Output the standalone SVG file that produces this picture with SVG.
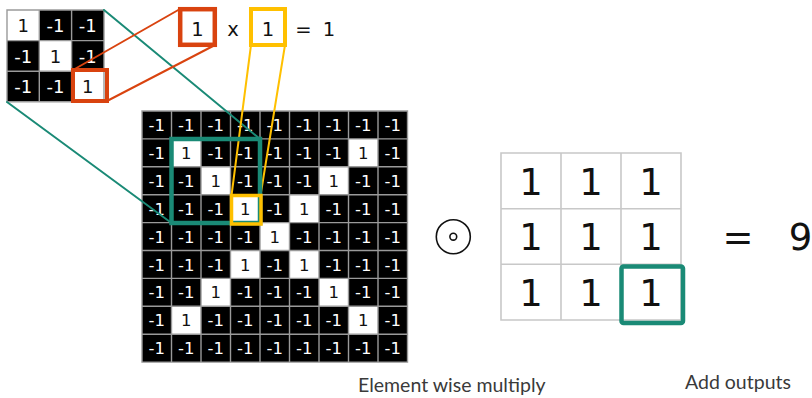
<svg xmlns="http://www.w3.org/2000/svg" width="812" height="398" viewBox="0 0 812 398">
<style>
.num{font-family:"DejaVu Sans","Liberation Sans",sans-serif;text-anchor:middle}
.big .num{font-size:16.5px}
.small .num{font-size:18px}
.wt{fill:#ffffff}
.bt{fill:#111111}
.gl{stroke:#9a9a9a;stroke-width:1.4;fill:none}
.fl{stroke:#c8c8c8;stroke-width:1.6;fill:none}
.lbl{font-family:Lato,"Open Sans",sans-serif;font-size:19.5px;fill:#3a3a3a}
.red{stroke:#d9430f;fill:none}
.yel{stroke:#ffc000;fill:none}
.grn{stroke:#1a8a76;fill:none}
</style>
<rect width="812" height="398" fill="#ffffff"/>

<g id="small-grid" class="small">
  <rect x="7" y="10" width="97" height="91.8" fill="#000"/>
  <rect x="7" y="10" width="32.3" height="30.6" fill="#fff"/>
  <rect x="39.3" y="40.6" width="32.3" height="30.6" fill="#fff"/>
  <rect x="71.6" y="71.2" width="32.4" height="30.6" fill="#fff"/>
  <path class="gl" d="M7 10H104V101.8H7Z M39.3 10V101.8 M71.6 10V101.8 M7 40.6H104 M7 71.2H104"/>
  <text class="num bt" x="23.2" y="32.2">1</text><text class="num wt" x="55.5" y="32.2">-1</text><text class="num wt" x="87.8" y="32.2">-1</text>
  <text class="num wt" x="23.2" y="62.8">-1</text><text class="num bt" x="55.5" y="62.8">1</text><text class="num wt" x="87.8" y="62.8">-1</text>
  <text class="num wt" x="23.2" y="93.4">-1</text><text class="num wt" x="55.5" y="93.4">-1</text><text class="num bt" x="87.8" y="93.4">1</text>
</g>

<g id="big-grid" class="big">
  <rect x="142" y="111" width="265.5" height="251.1" fill="#000"/>
  <g fill="#fff">
    <rect x="171.5" y="138.9" width="29.5" height="27.9"/><rect x="348.5" y="138.9" width="29.5" height="27.9"/>
    <rect x="201" y="166.8" width="29.5" height="27.9"/><rect x="319" y="166.8" width="29.5" height="27.9"/>
    <rect x="230.5" y="194.7" width="29.5" height="27.9"/><rect x="289.5" y="194.7" width="29.5" height="27.9"/>
    <rect x="260" y="222.6" width="29.5" height="27.9"/>
    <rect x="230.5" y="250.5" width="29.5" height="27.9"/><rect x="289.5" y="250.5" width="29.5" height="27.9"/>
    <rect x="201" y="278.4" width="29.5" height="27.9"/><rect x="319" y="278.4" width="29.5" height="27.9"/>
    <rect x="171.5" y="306.3" width="29.5" height="27.9"/><rect x="348.5" y="306.3" width="29.5" height="27.9"/>
  </g>
  <path class="gl" d="M142 111H407.5V362.1H142Z M171.5 111V362.1 M201 111V362.1 M230.5 111V362.1 M260 111V362.1 M289.5 111V362.1 M319 111V362.1 M348.5 111V362.1 M378 111V362.1 M142 138.9H407.5 M142 166.8H407.5 M142 194.7H407.5 M142 222.6H407.5 M142 250.5H407.5 M142 278.4H407.5 M142 306.3H407.5 M142 334.2H407.5"/>
  <g class="num">
    <text class="wt" x="156.75" y="131">-1</text><text class="wt" x="186.25" y="131">-1</text><text class="wt" x="215.75" y="131">-1</text><text class="wt" x="245.25" y="131">-1</text><text class="wt" x="274.75" y="131">-1</text><text class="wt" x="304.25" y="131">-1</text><text class="wt" x="333.75" y="131">-1</text><text class="wt" x="363.25" y="131">-1</text><text class="wt" x="392.75" y="131">-1</text>
    <text class="wt" x="156.75" y="158.9">-1</text><text class="bt" x="186.25" y="158.9">1</text><text class="wt" x="215.75" y="158.9">-1</text><text class="wt" x="245.25" y="158.9">-1</text><text class="wt" x="274.75" y="158.9">-1</text><text class="wt" x="304.25" y="158.9">-1</text><text class="wt" x="333.75" y="158.9">-1</text><text class="bt" x="363.25" y="158.9">1</text><text class="wt" x="392.75" y="158.9">-1</text>
    <text class="wt" x="156.75" y="186.8">-1</text><text class="wt" x="186.25" y="186.8">-1</text><text class="bt" x="215.75" y="186.8">1</text><text class="wt" x="245.25" y="186.8">-1</text><text class="wt" x="274.75" y="186.8">-1</text><text class="wt" x="304.25" y="186.8">-1</text><text class="bt" x="333.75" y="186.8">1</text><text class="wt" x="363.25" y="186.8">-1</text><text class="wt" x="392.75" y="186.8">-1</text>
    <text class="wt" x="156.75" y="214.7">-1</text><text class="wt" x="186.25" y="214.7">-1</text><text class="wt" x="215.75" y="214.7">-1</text><text class="bt" x="245.25" y="214.7">1</text><text class="wt" x="274.75" y="214.7">-1</text><text class="bt" x="304.25" y="214.7">1</text><text class="wt" x="333.75" y="214.7">-1</text><text class="wt" x="363.25" y="214.7">-1</text><text class="wt" x="392.75" y="214.7">-1</text>
    <text class="wt" x="156.75" y="242.6">-1</text><text class="wt" x="186.25" y="242.6">-1</text><text class="wt" x="215.75" y="242.6">-1</text><text class="wt" x="245.25" y="242.6">-1</text><text class="bt" x="274.75" y="242.6">1</text><text class="wt" x="304.25" y="242.6">-1</text><text class="wt" x="333.75" y="242.6">-1</text><text class="wt" x="363.25" y="242.6">-1</text><text class="wt" x="392.75" y="242.6">-1</text>
    <text class="wt" x="156.75" y="270.5">-1</text><text class="wt" x="186.25" y="270.5">-1</text><text class="wt" x="215.75" y="270.5">-1</text><text class="bt" x="245.25" y="270.5">1</text><text class="wt" x="274.75" y="270.5">-1</text><text class="bt" x="304.25" y="270.5">1</text><text class="wt" x="333.75" y="270.5">-1</text><text class="wt" x="363.25" y="270.5">-1</text><text class="wt" x="392.75" y="270.5">-1</text>
    <text class="wt" x="156.75" y="298.4">-1</text><text class="wt" x="186.25" y="298.4">-1</text><text class="bt" x="215.75" y="298.4">1</text><text class="wt" x="245.25" y="298.4">-1</text><text class="wt" x="274.75" y="298.4">-1</text><text class="wt" x="304.25" y="298.4">-1</text><text class="bt" x="333.75" y="298.4">1</text><text class="wt" x="363.25" y="298.4">-1</text><text class="wt" x="392.75" y="298.4">-1</text>
    <text class="wt" x="156.75" y="326.3">-1</text><text class="bt" x="186.25" y="326.3">1</text><text class="wt" x="215.75" y="326.3">-1</text><text class="wt" x="245.25" y="326.3">-1</text><text class="wt" x="274.75" y="326.3">-1</text><text class="wt" x="304.25" y="326.3">-1</text><text class="wt" x="333.75" y="326.3">-1</text><text class="bt" x="363.25" y="326.3">1</text><text class="wt" x="392.75" y="326.3">-1</text>
    <text class="wt" x="156.75" y="354.2">-1</text><text class="wt" x="186.25" y="354.2">-1</text><text class="wt" x="215.75" y="354.2">-1</text><text class="wt" x="245.25" y="354.2">-1</text><text class="wt" x="274.75" y="354.2">-1</text><text class="wt" x="304.25" y="354.2">-1</text><text class="wt" x="333.75" y="354.2">-1</text><text class="wt" x="363.25" y="354.2">-1</text><text class="wt" x="392.75" y="354.2">-1</text>
  </g>
</g>

<g id="connectors" stroke-width="2" stroke-linecap="round">
  <line class="grn" x1="104" y1="10" x2="260" y2="139"/>
  <line class="grn" x1="7" y1="102" x2="171.5" y2="223"/>
  <line class="red" x1="73" y1="70" x2="180" y2="9"/>
  <line class="red" x1="107" y1="101" x2="215" y2="45"/>
  <line class="yel" x1="251" y1="45" x2="231.5" y2="195.5"/>
  <line class="yel" x1="285" y1="45" x2="260.5" y2="195.5"/>
</g>

<g id="highlight-boxes">
  <rect class="grn" x="171.5" y="139" width="88.5" height="84" stroke-width="4.5"/>
  <rect class="yel" x="231.5" y="195.5" width="29.5" height="28.5" stroke-width="3.5"/>
  <rect class="red" x="73" y="70" width="34" height="31" stroke-width="4"/>
</g>

<g id="product" class="small">
  <rect class="red" x="180.2" y="9.2" width="34.6" height="35.6" stroke-width="4.5" fill="#fff"/>
  <text class="num bt" x="197.5" y="36" style="font-size:19.5px">1</text>
  <text class="num bt" x="233" y="36" style="font-size:19.5px">x</text>
  <rect class="yel" x="251" y="9" width="34" height="36" stroke-width="4" fill="#fff"/>
  <text class="num bt" x="268" y="36" style="font-size:19.5px">1</text>
  <text class="num bt" x="306.5" y="36" style="font-size:19.5px">= <tspan x="329">1</tspan></text>
</g>

<g id="odot" fill="none" stroke="#111" stroke-width="1.6">
  <circle cx="453.3" cy="236.7" r="17"/>
  <circle cx="453.3" cy="236.7" r="3.4"/>
</g>

<g id="filter">
  <rect x="501" y="153" width="180" height="167" fill="#fff"/>
  <path class="fl" d="M501 153H681V320H501Z M561 153V320 M621 153V320 M501 208.7H681 M501 264.3H681"/>
  <g class="num bt" style="font-size:37px">
    <text x="531" y="194.5">1</text><text x="591" y="194.5">1</text><text x="651" y="194.5">1</text>
    <text x="531" y="250">1</text><text x="591" y="250">1</text><text x="651" y="250">1</text>
    <text x="531" y="305.7">1</text><text x="591" y="305.7">1</text><text x="651" y="305.7">1</text>
  </g>
  <rect class="grn" x="621.5" y="266.5" width="61.5" height="56.5" rx="2" stroke-width="4.5"/>
</g>

<g id="result">
  <text class="num bt" x="738" y="250" style="font-size:37px">=</text>
  <text class="num bt" x="800.5" y="250" style="font-size:37px">9</text>
</g>

<g id="labels">
  <text class="lbl" x="358" y="392">Element wise multiply</text>
  <text class="lbl" x="685" y="389">Add outputs</text>
</g>
</svg>
